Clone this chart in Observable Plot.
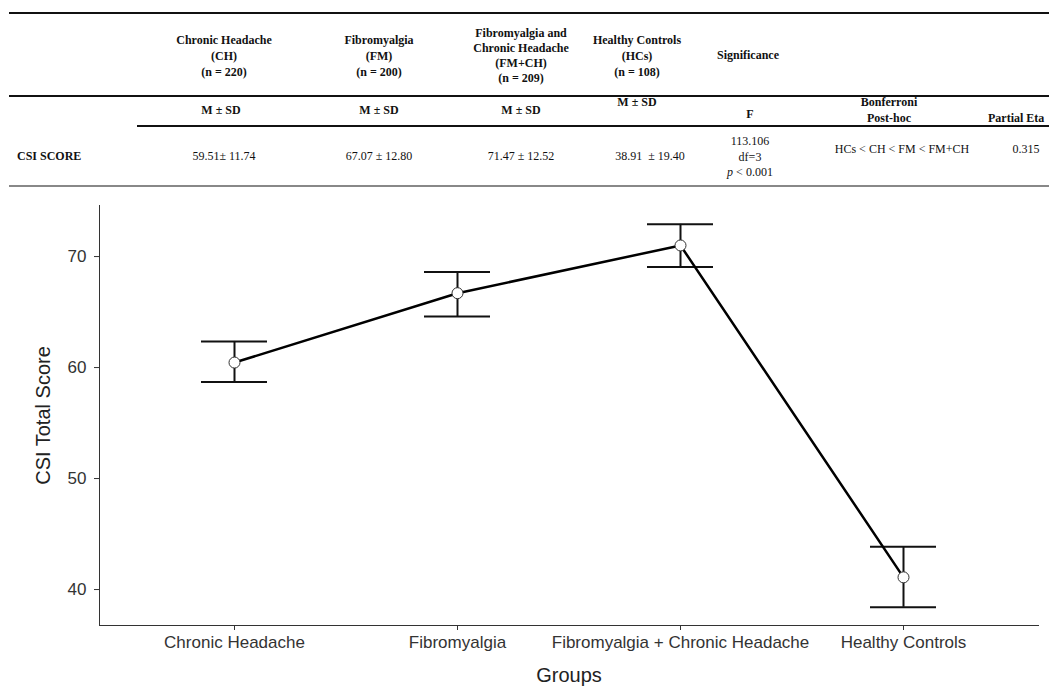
<!DOCTYPE html>
<html>
<head>
<meta charset="utf-8">
<script src="https://cdn.jsdelivr.net/npm/d3@7"></script>
<script src="https://cdn.jsdelivr.net/npm/@observablehq/plot@0.6"></script>
<style>
  html, body { margin: 0; padding: 0; background: #fff; }
  #wrap { width: 1049px; height: 689px; overflow: hidden; background: #fff; }
  #table { position: relative; width: 1049px; height: 190px; overflow: hidden;
           font-family: "Liberation Serif", "Times New Roman", serif; color: #111; }
  #table .t { position: absolute; white-space: nowrap; transform: translate(-50%, -50%); line-height: 1; }
  #table .l { transform: translate(0, -50%); }
  #table .b { font-weight: bold; font-size: 12px; }
  #table .n { font-size: 12px; }
  #table .rule { position: absolute; right: 0; }
  #chart svg { display: block; }
</style>
</head>
<body>
<div id="wrap">
  <div id="table"></div>
  <div id="chart"></div>
</div>
<script>
// ---- Table data ----
const tableGroups = ["Chronic Headache", "Fibromyalgia", "Fibromyalgia and|Chronic Headache", "Healthy Controls"];
const tableAbbrev = ["(CH)", "(FM)", "(FM+CH)", "(HCs)"];
const tableN = ["(n = 220)", "(n = 200)", "(n = 209)", "(n = 108)"];
const tableMeanSD = ["59.51\u00b1 11.74", "67.07 \u00b1 12.80", "71.47 \u00b1 12.52", "38.91&nbsp; \u00b1 19.40"];
const fLines = ["113.106", "df=3", "<i>p</i> < 0.001"];
const posthoc = "HCs < CH < FM < FM+CH";
const partialEta = "0.315";

// ---- Chart data (means with error bars) ----
const groups = ["Chronic Headache", "Fibromyalgia", "Fibromyalgia + Chronic Headache", "Healthy Controls"];
const means = [60.45, 66.7, 71.0, 41.1];
const lower = [58.7, 64.6, 69.05, 38.4];
const upper = [62.35, 68.6, 72.9, 43.85];
const yTicks = [40, 50, 60, 70];

// ---- Build table ----
const T = document.getElementById("table");
function txt(html, x, y, cls) {
  const d = document.createElement("div");
  d.className = "t " + cls;
  d.style.left = x + "px"; d.style.top = y + "px";
  d.innerHTML = html;
  T.appendChild(d);
}
function rule(left, top, h, color) {
  const d = document.createElement("div");
  d.className = "rule";
  d.style.left = left + "px"; d.style.top = top + "px";
  d.style.height = h + "px"; d.style.background = color;
  T.appendChild(d);
}
rule(9, 12, 2, "#111");
rule(9, 95, 2, "#111");
rule(137, 125, 2, "#111");
rule(9, 185, 2, "#888");

const colX = [224, 379, 521, 637];
tableGroups.forEach((g, i) => {
  const lines = g.split("|").concat([tableAbbrev[i], tableN[i]]);
  const step = lines.length === 4 ? 15 : 16;
  const y0 = lines.length === 4 ? 33 : 40;
  lines.forEach((s, k) => txt(s, colX[i], y0 + k * step, "b"));
});
txt("Significance", 748, 55, "b");
["M \u00b1 SD", "M \u00b1 SD", "M \u00b1 SD", "M \u00b1 SD"].forEach((s, i) =>
  txt(s, colX[i] - (i === 0 ? 3 : 0), i === 3 ? 102 : 110, "b"));
txt("F", 750, 114, "b");
txt("Bonferroni", 889, 102, "b");
txt("Post-hoc", 889, 118, "b");
txt("Partial Eta", 988, 118, "b l");
txt("CSI SCORE", 17, 156, "b l");
const valX = [224, 379, 521, 650];
tableMeanSD.forEach((s, i) => txt(s, valX[i], 156, "n"));
fLines.forEach((s, k) => txt(s, 750, 141 + k * 15.5, "n"));
txt(posthoc, 902, 149, "n");
txt(partialEta, 1026, 149, "n");

// ---- Chart ----
const data = groups.map((g, i) => ({group: g, mean: means[i], lo: lower[i], hi: upper[i]}));

const chart = Plot.plot({
  width: 1049,
  height: 499,
  marginTop: 15,
  marginBottom: 64,
  marginLeft: 99,
  marginRight: 11,
  style: {fontFamily: "'Liberation Sans', Arial, sans-serif", fontSize: "17px", color: "#333", background: "#fff"},
  x: {type: "band", domain: groups, paddingInner: 0.705, paddingOuter: 0.451, align: 0.5,
      label: null, tickSize: 5, tickPadding: 5, line: true},
  y: {domain: [36.76, 74.6], ticks: yTicks, tickSize: 5, tickPadding: 8, label: null, line: true},
  marks: [
    Plot.ruleX(data, {x: "group", y1: "lo", y2: "hi", stroke: "#111", strokeWidth: 2}),
    Plot.tickY(data, {x: "group", y: "lo", stroke: "#111", strokeWidth: 2}),
    Plot.tickY(data, {x: "group", y: "hi", stroke: "#111", strokeWidth: 2}),
    Plot.line(data, {x: "group", y: "mean", stroke: "#000", strokeWidth: 2.5}),
    Plot.dot(data, {x: "group", y: "mean", r: 5.5, fill: "#fff", stroke: "#333", strokeWidth: 1}),
    Plot.text(["CSI Total Score"], {text: d => d, frameAnchor: "left", textAnchor: "middle", dx: -56, rotate: -90, fontSize: 20, fill: "#222"}),
    Plot.text(["Groups"], {text: d => d, frameAnchor: "bottom", dy: 56, fontSize: 20, fill: "#222"})
  ]
});
document.getElementById("chart").appendChild(chart);
</script>
</body>
</html>
